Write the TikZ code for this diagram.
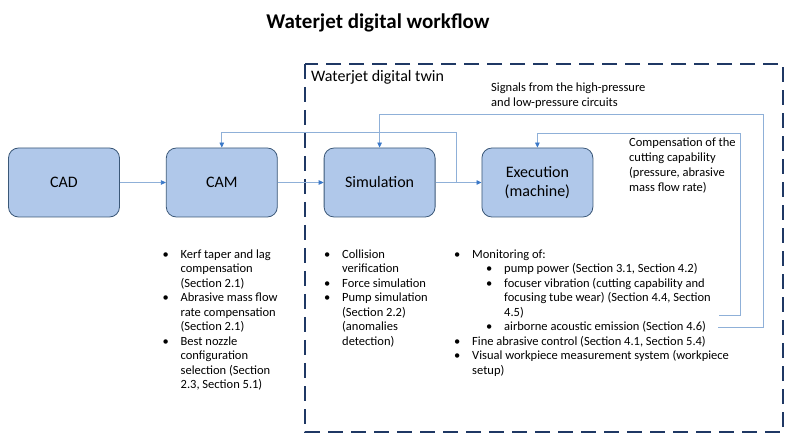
\documentclass[tikz,border=0pt]{standalone}
\usepackage{fontspec}
\setmainfont{Carlito}
\usetikzlibrary{positioning,arrows.meta}
\definecolor{boxfill}{HTML}{B0C8EA}
\definecolor{boxline}{HTML}{3B5878}
\definecolor{twinline}{HTML}{1F3864}
\definecolor{linkline}{HTML}{8FB0D8}
\definecolor{linkhead}{HTML}{3A78C8}
\newcommand{\lbul}{\makebox[18pt][l]{\textbullet}}
\newcommand{\lgap}{\hspace*{18pt}}
\newcommand{\lsub}{\hspace*{32pt}}
\begin{document}
\begin{tikzpicture}[x=1pt,y=-1pt,
	stage/.style = {draw=boxline, line width=0.8pt, fill=boxfill, rounded corners=10pt,
		minimum width=111pt, minimum height=69pt, align=center,
		font=\fontsize{16}{19}\selectfont},
	link/.style = {draw=linkline, line width=0.8pt},
	linkarrow/.style = {link, -{Triangle[length=5pt,width=4.5pt,color=linkhead]}},
	notes/.style = {align=left, inner sep=0pt, anchor=north west,
		font=\fontsize{12.5}{14.5}\selectfont},
	node distance=46pt]
	\useasboundingbox (0,0) rectangle (798,446);
	% title and twin frame
	\node[anchor=base, font=\fontsize{21}{25}\selectfont\bfseries] (title) at (378,28.5) {Waterjet digital workflow};
	\draw[twinline, line width=2.2pt, dash pattern=on 15pt off 8pt] (305,64) rectangle (783,432);
	\node[anchor=base west, inner sep=0pt, font=\fontsize{16}{19}\selectfont] (twin) at (311,81.5) {Waterjet digital twin};
	% stages
	\node[stage] (cad) at (64,182.5) {CAD};
	\node[stage] (cam) [right=of cad] {CAM};
	\node[stage] (sim) [right=of cam] {Simulation};
	\node[stage] (exec) [right=of sim] {Execution\\(machine)};
	\draw[linkarrow] (cad) -- (cam);
	\draw[linkarrow] (cam) -- (sim);
	\draw[linkarrow] (sim) -- (exec);
	% feedback to CAM
	\coordinate (fb) at (456,182.5);
	\coordinate (fbtop) at (456,132);
	\draw[linkarrow] (fb) -- (fbtop) -| (cam.north);
	% signals from the circuits
	\coordinate (sigA) at (718,327);
	\coordinate (sigB) at (763,327);
	\coordinate (sigC) at (763,114);
	\draw[linkarrow] (sigA) -- (sigB) -- (sigC) -| (sim.north);
	\node[notes, font=\fontsize{12.5}{15}\selectfont] (signals) at (491,83) {Signals from the high-pressure\\and low-pressure circuits};
	% compensation
	\coordinate (compA) at (719,315);
	\coordinate (compB) at (740,315);
	\coordinate (compC) at (740,133);
	\draw[linkarrow] (compA) -- (compB) -- (compC) -| (exec.north);
	\node[notes, font=\fontsize{12.5}{15}\selectfont] (comp) at (629,137.5) {Compensation of the\\cutting capability\\(pressure, abrasive\\mass flow rate)};
	% lists
	\node[notes] (camlist) at (162.5,249.5) {\lbul Kerf taper and lag\\\lgap compensation\\\lgap (Section 2.1)\\
		\lbul Abrasive mass flow\\\lgap rate compensation\\\lgap (Section 2.1)\\
		\lbul Best nozzle\\\lgap configuration\\\lgap selection (Section\\\lgap 2.3, Section 5.1)};
	\node[notes] (simlist) at (324,249.5) {\lbul Collision\\\lgap verification\\
		\lbul Force simulation\\
		\lbul Pump simulation\\\lgap (Section 2.2)\\\lgap (anomalies\\\lgap detection)};
	\node[notes] (execlist) at (454,249.5) {\lbul Monitoring of:\\
		\lsub\lbul pump power (Section 3.1, Section 4.2)\\
		\lsub\lbul focuser vibration (cutting capability and\\\lsub\lgap focusing tube wear) (Section 4.4, Section\\\lsub\lgap 4.5)\\
		\lsub\lbul airborne acoustic emission (Section 4.6)\\
		\lbul Fine abrasive control (Section 4.1, Section 5.4)\\
		\lbul Visual workpiece measurement system (workpiece\\\lgap setup)};
\end{tikzpicture}
\end{document}
